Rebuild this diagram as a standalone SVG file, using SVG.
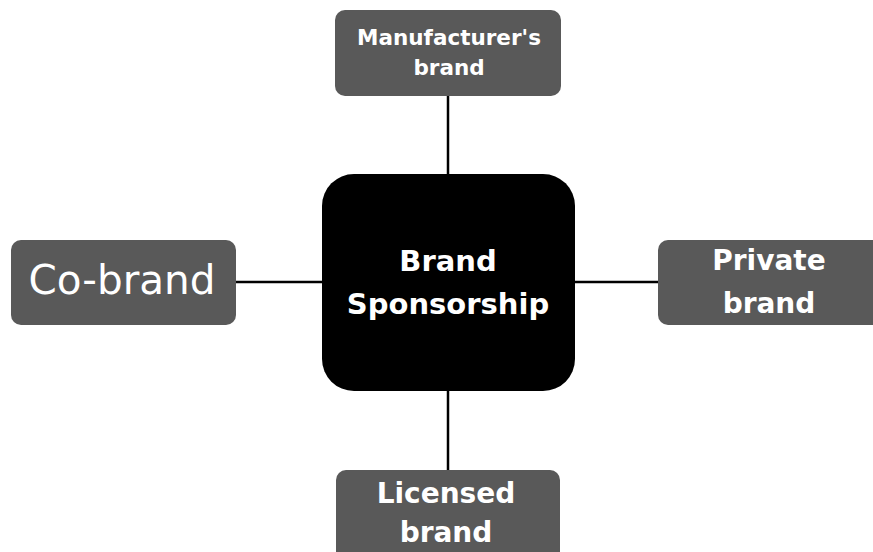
<svg xmlns="http://www.w3.org/2000/svg" width="873" height="552" viewBox="0 0 873 552">
<style>
.box{fill:#595959;}
.t{fill:#ffffff;font-family:"DejaVu Sans","Open Sans",sans-serif;font-weight:bold;text-anchor:middle;}
.r{fill:#ffffff;font-family:"DejaVu Sans","Open Sans",sans-serif;font-weight:normal;text-anchor:middle;}
.c{stroke:#000;stroke-width:2.5;fill:none;}
</style>
<rect width="873" height="552" fill="#fff"/>
<g id="connectors">
<line class="c" x1="448" y1="96" x2="448" y2="174"/>
<line class="c" x1="448" y1="391" x2="448" y2="470"/>
<line class="c" x1="236" y1="282" x2="322" y2="282"/>
<line class="c" x1="575" y1="282" x2="658" y2="282"/>
</g>
<g id="center">
<rect x="322" y="174" width="253" height="217" rx="32" fill="#000"/>
<text class="t" x="448" y="271" font-size="29">Brand</text>
<text class="t" x="448" y="314" font-size="29">Sponsorship</text>
</g>
<g id="manufacturer">
<rect class="box" x="335" y="10" width="226" height="86" rx="10"/>
<text class="t" x="449" y="45" font-size="21.5">Manufacturer's</text>
<text class="t" x="449" y="75" font-size="21.5">brand</text>
</g>
<g id="cobrand">
<rect class="box" x="11" y="240" width="225" height="85" rx="10"/>
<text class="r" x="122" y="294" font-size="40.5">Co-brand</text>
</g>
<g id="private">
<rect class="box" x="658" y="240" width="230" height="85" rx="10"/>
<text class="t" x="769" y="270" font-size="28">Private</text>
<text class="t" x="769" y="313" font-size="28">brand</text>
</g>
<g id="licensed">
<rect class="box" x="336" y="470" width="224" height="100" rx="10"/>
<text class="t" x="446" y="503" font-size="28">Licensed</text>
<text class="t" x="446" y="542" font-size="28">brand</text>
</g>
</svg>
